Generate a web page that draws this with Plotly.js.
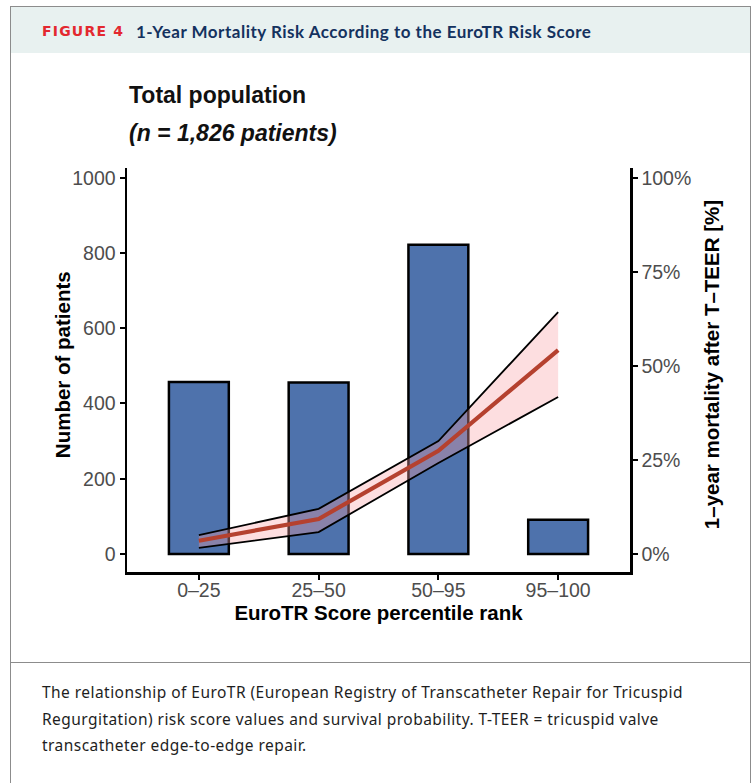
<!DOCTYPE html>
<html>
<head>
<meta charset="utf-8">
<script src="https://cdn.plot.ly/plotly-3.0.1.min.js"></script>
<style>
  html, body { margin: 0; padding: 0; background: #fff; }
  #wrap { position: relative; width: 755px; height: 783px; overflow: hidden; }
  #frame { position: absolute; left: 10px; top: 6px; width: 741px; height: 800px;
           border: 1px solid #8c8c8c; box-sizing: border-box; }
  #header { position: absolute; left: 11px; top: 7px; width: 739px; height: 46px;
            background: #e8f1f0; }
  #header span { position: absolute; white-space: nowrap; font-weight: 700; }
  #fig { left: 31px; top: 16px; color: #e3282f; font-family: "DejaVu Sans", sans-serif;
         font-size: 14px; letter-spacing: 1.2px; }
  #ttl { left: 125px; top: 14px; color: #14325f; font-family: Lato, sans-serif;
         font-size: 17px; letter-spacing: 0.5px; }
  #sep { position: absolute; left: 10px; top: 662px; width: 741px; height: 1px; background: #8c8c8c; }
  #caption { position: absolute; left: 42px; top: 679px; font-family: "Noto Sans", sans-serif;
             font-size: 15.5px; letter-spacing: 0.45px; line-height: 26.5px; color: #1e1e1e;
             white-space: nowrap; }
  #plot { position: absolute; left: 0; top: 0; width: 755px; height: 783px; }
</style>
</head>
<body>
<div id="wrap">
  <div id="frame"></div>
  <div id="header"><span id="fig">FIGURE 4</span><span id="ttl">1-Year Mortality Risk According to the EuroTR Risk Score</span></div>
  <div id="sep"></div>
  <div id="caption">The relationship of EuroTR (European Registry of Transcatheter Repair for Tricuspid<br>Regurgitation) risk score values and survival probability. T-TEER = tricuspid valve<br>transcatheter edge-to-edge repair.</div>
  <div id="plot"></div>
</div>
<script>
// EuroTR score percentile groups
const groups = ["0–25", "25–50", "50–95", "95–100"];
// number of patients per group
const patients = [457, 456, 822, 91];
// 1-year mortality (%) with confidence band
const mortality = [3.5, 9.3, 27.4, 54.2];
const mortalityLower = [1.6, 5.8, 24.2, 41.7];
const mortalityUpper = [5.0, 12.0, 30.0, 64.3];
// axis ticks
const countTicks = [0, 200, 400, 600, 800, 1000];
const pctTicks = [0, 25, 50, 75, 100];
const pctLabels = ["0%", "25%", "50%", "75%", "100%"];

const baseFont = "Liberation Sans, Arial, Helvetica, sans-serif";

const traces = [
  {
    type: "bar", x: groups, y: patients, width: 0.5,
    marker: { color: "#4e72ac", line: { color: "#000", width: 2.5 } },
    showlegend: false
  },
  {
    type: "scatter", mode: "lines", x: groups, y: mortalityLower, yaxis: "y2",
    line: { color: "#000", width: 1.8 }, showlegend: false
  },
  {
    type: "scatter", mode: "lines", x: groups, y: mortalityUpper, yaxis: "y2",
    fill: "tonexty", fillcolor: "rgba(249,160,165,0.35)",
    line: { color: "#000", width: 1.8 }, showlegend: false
  },
  {
    type: "scatter", mode: "lines", x: groups, y: mortality, yaxis: "y2",
    line: { color: "#b5412f", width: 4.2 }, showlegend: false
  }
];

function tickFont() { return { family: baseFont, size: 19.5, color: "#4d4d4d" }; }
function titleFont() { return { family: baseFont, size: 20.5, color: "#000", weight: 700 }; }

const axisLine = {
  showline: true, linecolor: "#000", linewidth: 2.5,
  ticks: "outside", ticklen: 5, tickwidth: 2, tickcolor: "#000",
  showgrid: false, zeroline: false
};

const layout = {
  width: 755, height: 783,
  margin: { l: 127, r: 125, t: 168, b: 211 },
  paper_bgcolor: "rgba(0,0,0,0)",
  plot_bgcolor: "rgba(0,0,0,0)",
  showlegend: false,
  xaxis: Object.assign({}, axisLine, {
    type: "category", range: [-0.6, 3.6], tickfont: tickFont(),
    ticklabelstandoff: -6,
    title: { text: "EuroTR Score percentile rank", font: titleFont(), standoff: 6 }
  }),
  yaxis: Object.assign({}, axisLine, {
    range: [-48, 1026], tickmode: "array", tickvals: countTicks, tickfont: tickFont()
  }),
  yaxis2: Object.assign({}, axisLine, {
    overlaying: "y", side: "right",
    range: [-4.8, 102.6], tickmode: "array", tickvals: pctTicks, ticktext: pctLabels,
    tickfont: tickFont()
  }),
  annotations: [
    {
      xref: "paper", yref: "paper", x: 0, y: 1.0, yshift: 73,
      xanchor: "left", yanchor: "middle", showarrow: false,
      text: "<b>Total population</b>",
      font: { family: baseFont, size: 23, color: "#111" }
    },
    {
      xref: "paper", yref: "paper", x: 0, y: 1.0, yshift: 35,
      xanchor: "left", yanchor: "middle", showarrow: false,
      text: "<b><i>(n = 1,826 patients)</i></b>",
      font: { family: baseFont, size: 23, color: "#111" }
    },
    {
      // left axis title
      xref: "paper", yref: "paper", x: 0, xshift: -65, y: 0.512,
      xanchor: "center", yanchor: "middle", textangle: -90, showarrow: false,
      text: "<b>Number of patients</b>",
      font: { family: baseFont, size: 20.5, color: "#000" }
    },
    {
      // right axis title
      xref: "paper", yref: "paper", x: 1, xshift: 81, y: 0.512,
      xanchor: "center", yanchor: "middle", textangle: -90, showarrow: false,
      text: "<b>1–year mortality after T–TEER [%]</b>",
      font: { family: baseFont, size: 20.5, color: "#000" }
    }
  ]
};

Plotly.newPlot("plot", traces, layout, { displayModeBar: false, staticPlot: true });
</script>
</body>
</html>
